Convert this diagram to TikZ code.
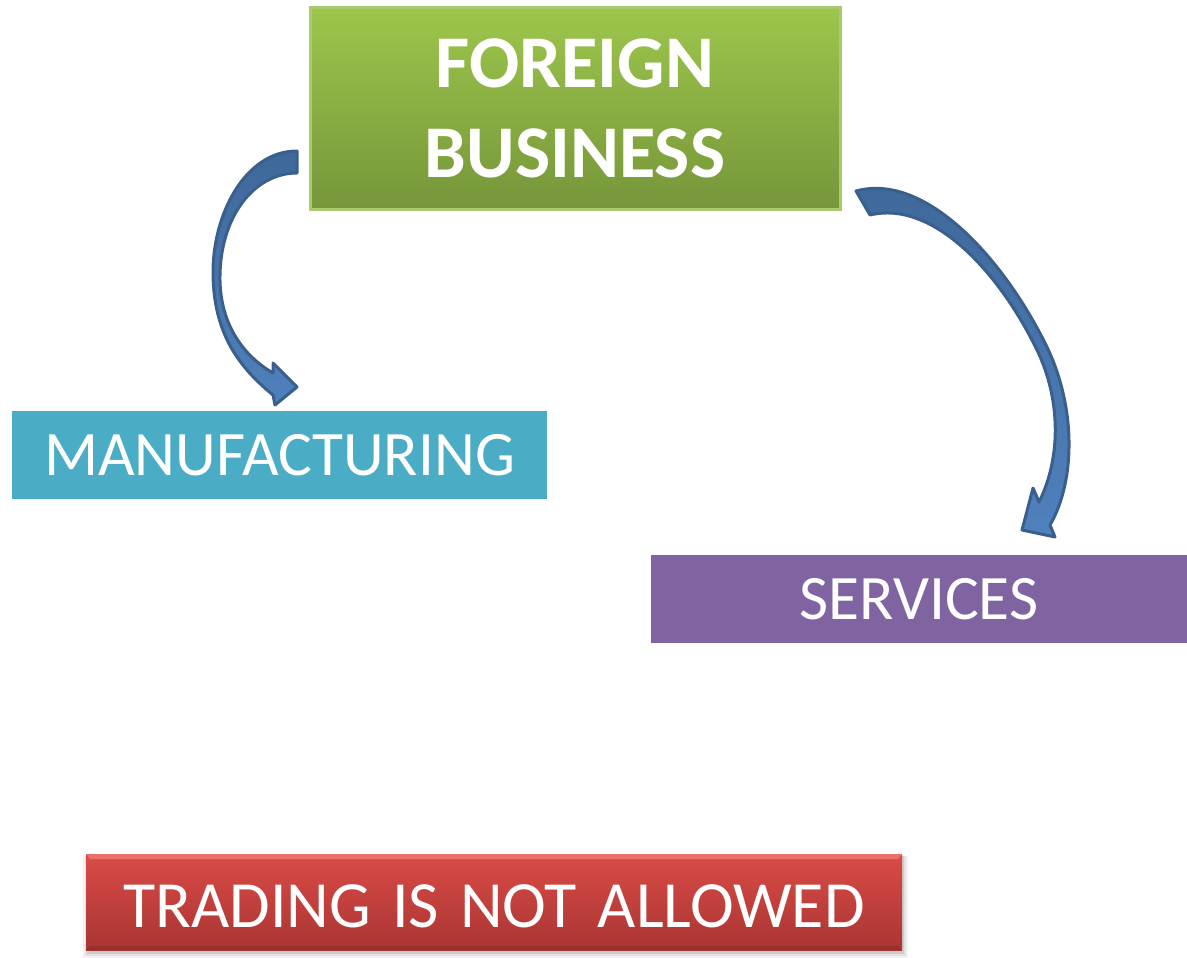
\documentclass[tikz,border=0pt]{standalone}
\usepackage{fontspec}
\setmainfont{Carlito}
\definecolor{fbtop}{HTML}{9DC64C}
\definecolor{fbbot}{HTML}{76963A}
\definecolor{fbline}{HTML}{A9CB6E}
\definecolor{mfc}{HTML}{4BACC6}
\definecolor{svc}{HTML}{8064A2}
\definecolor{trtop}{HTML}{DA4B47}
\definecolor{trbot}{HTML}{A93532}
\definecolor{trhi}{HTML}{EE7A75}
\definecolor{arrfill}{HTML}{4F81BD}
\definecolor{arrdark}{HTML}{3F6899}
\definecolor{arrline}{HTML}{3A5F8C}
\tikzset{
  flatbox/.style={rectangle, inner sep=0pt, outer sep=0pt, text=white},
  curvarrow/.style={draw=arrline, line width=2.25pt, line join=round},
}
\begin{document}
\begin{tikzpicture}[x=0.75pt,y=-0.75pt]
\useasboundingbox (0,0) rectangle (1187,957);
% foreign business
\node[flatbox, draw=fbline, line width=2.25pt, top color=fbtop, bottom color=fbbot,
      minimum width=397.5pt, minimum height=151.5pt, align=center,
      font=\fontsize{55.8}{67.5}\selectfont\bfseries] (fb) at (575,108) {FOREIGN\\BUSINESS};
% manufacturing
\node[flatbox, fill=mfc, minimum width=401.25pt, minimum height=66pt,
      font=\fontsize{47.5}{57}\selectfont] (mf) at (279.5,455) {MANUFACTURING};
% services
\node[flatbox, fill=svc, minimum width=402pt, minimum height=66pt,
      font=\fontsize{47.5}{57}\selectfont] (sv) at (919,599) {SERVICES};
% trading shadow
\foreach \d/\o in {6/0.05,4/0.07,2/0.09}{
  \fill[black, opacity=\o] (86-\d+3,856) rectangle (902+\d,952+\d);
}
\node[flatbox, top color=trtop, bottom color=trbot, minimum width=612pt, minimum height=72pt] (tr) at (494,902) {};
\fill[trhi, opacity=0.8] (86,854) -- (902,854) -- (898,859) -- (90,859) -- cycle;
\fill[trbot!80!black, opacity=0.5] (86,950) -- (902,950) -- (898,946) -- (90,946) -- cycle;
\node[text=white, font=\fontsize{49.5}{58}\selectfont, inner sep=0pt] (trt) at ([yshift=-3pt]tr.center)
  {TRADING\hspace{0.32em}IS\hspace{0.32em}NOT\hspace{0.32em}ALLOWED};
% left curved arrow
\draw[curvarrow, top color=arrdark, bottom color=arrfill]
  (297,151) .. controls (245,151) and (212,215) .. (213,275)
            .. controls (214,335) and (240,368) .. (273,395)
  -- (275,405) -- (297,387) -- (273,363) -- (273,373)
            .. controls (242,355) and (219,322) .. (220,275)
            .. controls (221,215) and (255,173) .. (297,173) -- cycle;
% right curved arrow
\draw[curvarrow, top color=arrdark, bottom color=arrfill]
  (856,191) .. controls (925,172) and (1003,258) .. (1046,345)
            .. controls (1076,406) and (1076,480) .. (1050,525)
  -- (1055,537) -- (1022,530) -- (1033,488) -- (1039,502)
            .. controls (1061,458) and (1061,400) .. (1037,350)
            .. controls (998,270) and (932,200) .. (870,215) -- cycle;
\end{tikzpicture}
\end{document}
